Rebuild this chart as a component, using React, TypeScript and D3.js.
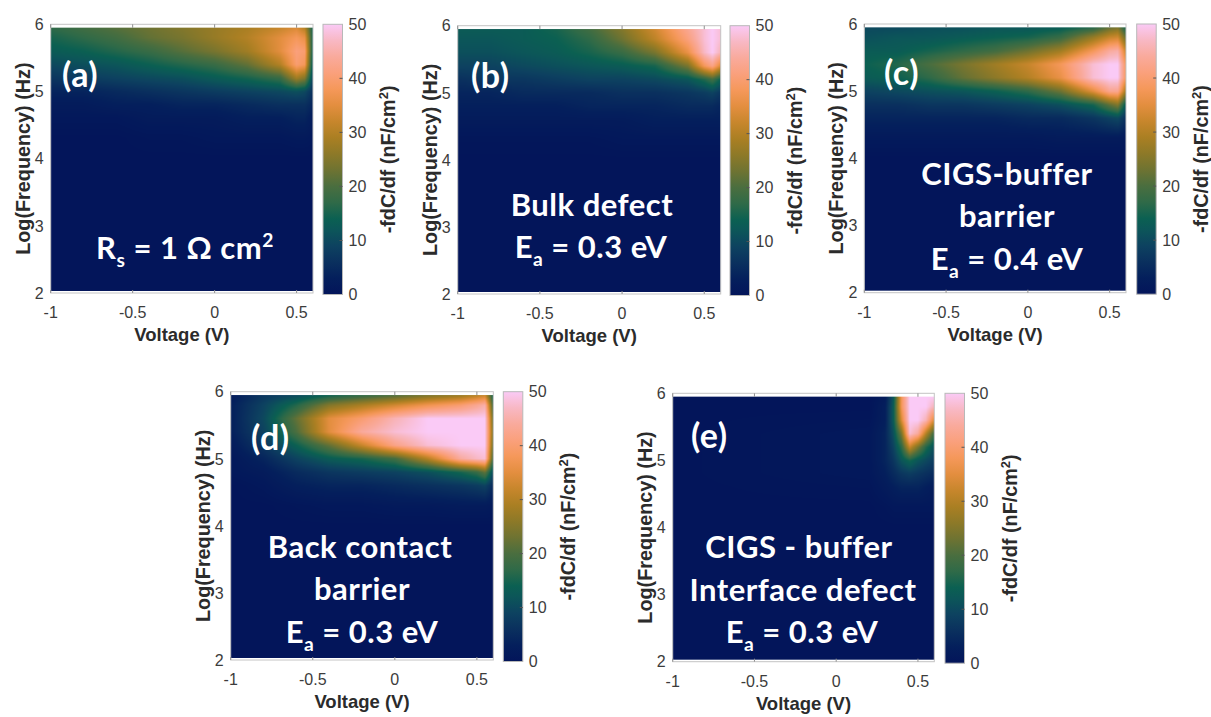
import React, { useMemo } from 'react';
import * as d3 from 'd3';

const W = 1211;
const H = 717;

const xTicks = [-1, -0.5, 0, 0.5];
const yTicks = [2, 3, 4, 5, 6];
const cbarTicks = [0, 10, 20, 30, 40, 50];

// grid rows: log10(frequency), top to bottom
const logF = [5.95, 5.8, 5.6, 5.4, 5.2, 5.0, 4.8, 4.6, 4.3, 4.0, 2.0];
// grid columns: voltage
const voltsWide = [-1, -0.8, -0.6, -0.4, -0.2, 0, 0.2, 0.4, 0.5, 0.55, 0.6];
const voltsE = [-1, 0.2, 0.3, 0.35, 0.4, 0.45, 0.5, 0.55, 0.6];

// -fdC/df (nF/cm2)
const gridA = [
  [17, 19, 21, 23, 25, 27, 29, 32, 34, 30, 14],
  [15, 17, 19, 22, 24, 27, 30, 35, 38, 36, 14],
  [13, 14, 16, 18, 21, 24, 28, 35, 41, 40, 13],
  [10, 11, 12, 14, 16, 18, 22, 30, 40, 38, 11],
  [7, 8, 9, 10, 11, 13, 15, 18, 28, 25, 9],
  [4, 4, 5, 6, 7, 8, 9, 10, 11, 10, 6],
  [2, 2, 3, 3, 4, 4, 5, 6, 6, 6, 4],
  [1, 1, 1, 2, 2, 2, 3, 3, 4, 4, 2],
  [0, 0, 0, 0.5, 0.5, 1, 1, 1, 1.5, 1.5, 1],
  [0, 0, 0, 0, 0, 0, 0, 0, 0, 0, 0],
  [0, 0, 0, 0, 0, 0, 0, 0, 0, 0, 0],
];

const gridB = [
  [13, 13, 13, 15, 19, 25, 33, 43, 48, 50, 48],
  [12, 12, 13, 14, 17, 23, 31, 41, 48, 50, 48],
  [11, 11, 12, 13, 15, 18, 24, 36, 47, 50, 46],
  [9, 9, 10, 11, 12, 13, 15, 24, 38, 42, 34],
  [6, 7, 7, 8, 9, 9, 10, 12, 16, 19, 14],
  [4, 4, 5, 5, 5, 6, 6, 7, 8, 9, 7],
  [3, 3, 3, 3, 4, 4, 4, 5, 5, 5, 4],
  [2, 2, 2, 2, 2, 2, 3, 3, 3, 3, 3],
  [0.5, 0.5, 0.5, 0.5, 0.5, 1, 1, 1, 1, 1, 1],
  [0, 0, 0, 0, 0, 0, 0, 0, 0, 0, 0],
  [0, 0, 0, 0, 0, 0, 0, 0, 0, 0, 0],
];

const gridC = [
  [10, 10, 11, 11, 12, 12, 13, 16, 22, 24, 14],
  [11, 12, 12, 13, 14, 15, 18, 27, 32, 33, 22],
  [13, 13, 15, 17, 19, 23, 28, 38, 44, 45, 32],
  [14, 16, 20, 24, 28, 32, 38, 48, 50, 50, 38],
  [13, 14, 17, 22, 26, 30, 36, 48, 50, 50, 38],
  [9, 10, 11, 12, 14, 17, 23, 35, 43, 43, 28],
  [6, 6, 7, 7, 8, 9, 11, 15, 22, 25, 12],
  [4, 4, 4, 4, 4, 5, 5, 7, 9, 10, 6],
  [1.5, 1.5, 1.5, 1.5, 1.5, 1.5, 2, 2, 2, 2, 1.5],
  [0, 0, 0, 0, 0, 0, 0, 0, 0, 0, 0],
  [0, 0, 0, 0, 0, 0, 0, 0, 0, 0, 0],
];

const gridD = [
  [2, 7, 10, 14, 17, 20, 24, 27, 30, 32, 14],
  [3, 9, 16, 25, 29, 33, 37, 40, 43, 45, 18],
  [3, 10, 22, 35, 40, 46, 50, 50, 50, 50, 22],
  [3, 9, 20, 35, 44, 48, 50, 50, 50, 50, 24],
  [2, 7, 14, 22, 32, 42, 48, 50, 50, 50, 22],
  [1, 4, 9, 13, 15, 19, 30, 44, 47, 48, 18],
  [1, 2, 5, 7, 8, 9, 11, 15, 18, 22, 10],
  [0, 1, 3, 4, 4, 5, 6, 7, 8, 9, 5],
  [0, 0, 0.5, 1, 1, 1.5, 1.5, 2, 2, 2, 1.5],
  [0, 0, 0, 0, 0, 0, 0, 0, 0, 0, 0],
  [0, 0, 0, 0, 0, 0, 0, 0, 0, 0, 0],
];

const gridE = [
  [0, 0, 2, 12, 38, 50, 50, 50, 50],
  [0, 0, 3, 13, 38, 50, 50, 50, 46],
  [0, 0.5, 3, 13, 34, 50, 50, 46, 34],
  [0, 1, 4, 11, 24, 48, 44, 30, 18],
  [0, 1, 4, 9, 17, 32, 24, 16, 11],
  [0, 1, 4, 7, 12, 15, 12, 10, 8],
  [0, 1, 3, 5, 7, 8, 7, 6, 5],
  [0, 0.5, 2, 3, 4, 4, 4, 3, 2],
  [0, 0, 0.5, 1, 1, 1, 1, 1, 1],
  [0, 0, 0, 0, 0, 0, 0, 0, 0],
  [0, 0, 0, 0, 0, 0, 0, 0, 0],
];

const cmapValues = [0, 3, 6, 9, 12, 14, 17, 20, 23, 26, 29, 32, 35, 38, 41, 44, 47, 50];
const cmapColors = [
  '#03155a', '#041f5c', '#0a305e', '#0d4260', '#0c5659', '#0b6052', '#2f6a48', '#4a6e3f',
  '#6e7332', '#8d7928', '#aa7f23', '#c7862c', '#e38e3f', '#f5985a', '#faa07c', '#f9aa9c',
  '#f8b8c4', '#facaf6',
];

const color = d3.scaleLinear<string>().domain(cmapValues).range(cmapColors)
  .interpolate(d3.interpolateRgb).clamp(true);

type Part = { t: string; sub?: boolean; sup?: boolean };

const eaLine = (v: string): Part[] => [{ t: 'E' }, { t: 'a', sub: true }, { t: ` = ${v} eV` }];

const panels = [
  {
    key: 'a', grid: gridA, volts: voltsWide, left: 50.7, top: 24.3, width: 262.3, height: 268.7, cbLeft: 323,
    tag: { x: 62, y: 87, t: '(a)' },
    notes: [{ x: 185, y: 259, parts: [{ t: 'R' }, { t: 's', sub: true }, { t: ' = 1 \u03A9 cm' }, { t: '2', sup: true }] }],
  },
  {
    key: 'b', grid: gridB, volts: voltsWide, left: 457.7, top: 25.7, width: 263, height: 268.3, cbLeft: 730,
    tag: { x: 471, y: 88, t: '(b)' },
    notes: [
      { x: 592, y: 216, parts: [{ t: 'Bulk defect' }] },
      { x: 591, y: 258, parts: eaLine('0.3') },
    ],
  },
  {
    key: 'c', grid: gridC, volts: voltsWide, left: 864.3, top: 24, width: 261.7, height: 268.7, cbLeft: 1136.7,
    tag: { x: 884, y: 85, t: '(c)' },
    notes: [
      { x: 1007, y: 185, parts: [{ t: 'CIGS-buffer' }] },
      { x: 1007, y: 227, parts: [{ t: 'barrier' }] },
      { x: 1007, y: 270, parts: eaLine('0.4') },
    ],
  },
  {
    key: 'd', grid: gridD, volts: voltsWide, left: 230.7, top: 391.7, width: 262.6, height: 268.3, cbLeft: 503.3,
    tag: { x: 251, y: 450, t: '(d)' },
    notes: [
      { x: 360, y: 558, parts: [{ t: 'Back contact' }] },
      { x: 362, y: 600, parts: [{ t: 'barrier' }] },
      { x: 362, y: 643, parts: eaLine('0.3') },
    ],
  },
  {
    key: 'e', grid: gridE, volts: voltsE, left: 672.7, top: 393.3, width: 261.6, height: 268.4, cbLeft: 945,
    tag: { x: 691, y: 448, t: '(e)' },
    notes: [
      { x: 799, y: 558, parts: [{ t: 'CIGS - buffer' }] },
      { x: 803, y: 601, parts: [{ t: 'Interface defect' }] },
      { x: 802, y: 643, parts: eaLine('0.3') },
    ],
  },
];

const F_TOP = 5.95;
const F_BOTTOM = 2.03;
const CB_WIDTH = 19.5;

function locate(arr: number[], x: number): [number, number, number] {
  const n = arr.length;
  if (x <= arr[0]) return [0, 0, 0];
  if (x >= arr[n - 1]) return [n - 1, n - 1, 0];
  const i = d3.bisectRight(arr, x) - 1;
  return [i, i + 1, (x - arr[i]) / (arr[i + 1] - arr[i])];
}

function heatmapUrl(grid: number[][], volts: number[], x: d3.ScaleLinear<number, number>, y: d3.ScaleLinear<number, number>) {
  const fAsc = logF.slice().reverse();
  const rows = grid.slice().reverse();
  const x0 = x(-1), x1 = x(0.6), y0 = y(F_TOP), y1 = y(F_BOTTOM);
  const w = Math.round(x1 - x0), h = Math.round(y1 - y0);
  const canvas = document.createElement('canvas');
  canvas.width = w;
  canvas.height = h;
  const ctx = canvas.getContext('2d')!;
  const img = ctx.createImageData(w, h);
  for (let j = 0; j < h; j++) {
    const f = y.invert(y0 + (j + 0.5) * (y1 - y0) / h);
    const [r0, r1, tr] = locate(fAsc, f);
    for (let i = 0; i < w; i++) {
      const v = x.invert(x0 + (i + 0.5) * (x1 - x0) / w);
      const [c0, c1, tc] = locate(volts, v);
      const a = rows[r0][c0] * (1 - tc) + rows[r0][c1] * tc;
      const b = rows[r1][c0] * (1 - tc) + rows[r1][c1] * tc;
      const val = a * (1 - tr) + b * tr;
      const c = d3.rgb(color(val));
      const k = (j * w + i) * 4;
      img.data[k] = c.r;
      img.data[k + 1] = c.g;
      img.data[k + 2] = c.b;
      img.data[k + 3] = 255;
    }
  }
  ctx.putImageData(img, 0, 0);
  return { url: canvas.toDataURL(), x0, y0, w: x1 - x0, h: y1 - y0 };
}

const Note = ({ x, y, parts, anchor, size }: { x: number; y: number; parts: Part[]; anchor: string; size: number }) => {
  let shift = 0;
  return (
    <text x={x} y={y} textAnchor={anchor} fill="#fff" fontFamily="Lato, 'Open Sans', sans-serif" fontWeight={700}
      fontSize={size} letterSpacing={0.5}>
      {parts.map((p, i) => {
        const target = p.sub ? 8 : p.sup ? -12 : 0;
        const dy = target - shift;
        shift = target;
        return (
          <tspan key={i} dy={dy} fontSize={p.sub || p.sup ? size * 0.62 : size}>{p.t}</tspan>
        );
      })}
    </text>
  );
};

const Panel = ({ p }: { p: typeof panels[number] }) => {
  const x = d3.scaleLinear().domain([-1, 0.6]).range([p.left, p.left + p.width]);
  const y = d3.scaleLinear().domain([2, 6]).range([p.top + p.height, p.top]);
  const cbTop = p.top;
  const cbBottom = p.top + p.height + 1.5;
  const cy = d3.scaleLinear().domain([0, 50]).range([cbBottom, cbTop]);
  const heat = useMemo(() => heatmapUrl(p.grid, p.volts, x, y), [p.key]);
  const bottom = p.top + p.height;
  const gradId = `cmap-${p.key}`;
  const tickFont = { fontFamily: "'Liberation Sans', Arial, sans-serif", fontSize: 16, fill: '#3c3c3c' };
  const labelFont = { fontFamily: "'Liberation Sans', Arial, sans-serif", fontSize: 18.5, fontWeight: 700, fill: '#2b2b2b' };
  const rotFont = { ...labelFont, fontSize: 19.8 };
  return (
    <g>
      <defs>
        <linearGradient id={gradId} x1="0" y1="1" x2="0" y2="0">
          {cmapValues.map((v, i) => (
            <stop key={i} offset={v / 50} stopColor={cmapColors[i]} />
          ))}
        </linearGradient>
      </defs>
      <rect x={p.left} y={p.top} width={p.width} height={p.height} fill="#fff" />
      <image href={heat.url} x={heat.x0} y={heat.y0} width={heat.w} height={heat.h} preserveAspectRatio="none" />
      <rect x={p.left} y={p.top} width={p.width} height={p.height} fill="none" stroke="#c4c4c4" strokeWidth={1} />
      {xTicks.map((t) => (
        <g key={t}>
          <line x1={x(t)} x2={x(t)} y1={p.top} y2={p.top + 3.5} stroke="#8f8f8f" />
          <line x1={x(t)} x2={x(t)} y1={bottom} y2={bottom - 3} stroke="#8f8f8f" />
          <text x={x(t)} y={bottom + 25} textAnchor="middle" {...tickFont}>{t}</text>
        </g>
      ))}
      {yTicks.map((t) => (
        <text key={t} x={p.left - 7} y={y(t)} dy="0.36em" textAnchor="end" {...tickFont}>{t}</text>
      ))}
      <text x={p.left + p.width / 2} y={bottom + 48} textAnchor="middle" {...labelFont}>Voltage (V)</text>
      <text x={0} y={7} transform={`translate(${p.left - 28},${p.top + p.height / 2}) rotate(-90)`} textAnchor="middle" {...rotFont}>
        Log(Frequency) (Hz)
      </text>

      <rect x={p.cbLeft} y={cbTop} width={CB_WIDTH} height={cbBottom - cbTop} fill={`url(#${gradId})`} stroke="#b8b8b8" strokeWidth={1} />
      {cbarTicks.map((t) => (
        <g key={t}>
          {t > 0 && t < 50 && (
            <line x1={p.cbLeft + CB_WIDTH} x2={p.cbLeft + CB_WIDTH - 3} y1={cy(t)} y2={cy(t)} stroke="#555" />
          )}
          <text x={p.cbLeft + CB_WIDTH + 6} y={cy(t)} dy="0.36em" textAnchor="start" {...tickFont}>{t}</text>
        </g>
      ))}
      <text x={0} y={7} transform={`translate(${p.cbLeft + CB_WIDTH + 45},${(cbTop + cbBottom) / 2}) rotate(-90)`} textAnchor="middle" {...rotFont}>
        -fdC/df (nF/cm<tspan dy={-7} fontSize={13}>2</tspan><tspan dy={7}>)</tspan>
      </text>

      <Note x={p.tag.x} y={p.tag.y} parts={[{ t: p.tag.t }]} anchor="start" size={34} />
      {p.notes.map((n, i) => (
        <Note key={i} x={n.x} y={n.y} parts={n.parts} anchor="middle" size={31} />
      ))}
    </g>
  );
};

export default function App() {
  return (
    <svg width={W} height={H} style={{ position: 'absolute', left: 0, top: 0, background: '#fff' }}>
      <rect width={W} height={H} fill="#fff" />
      {panels.map((p) => (
        <Panel key={p.key} p={p} />
      ))}
    </svg>
  );
}
